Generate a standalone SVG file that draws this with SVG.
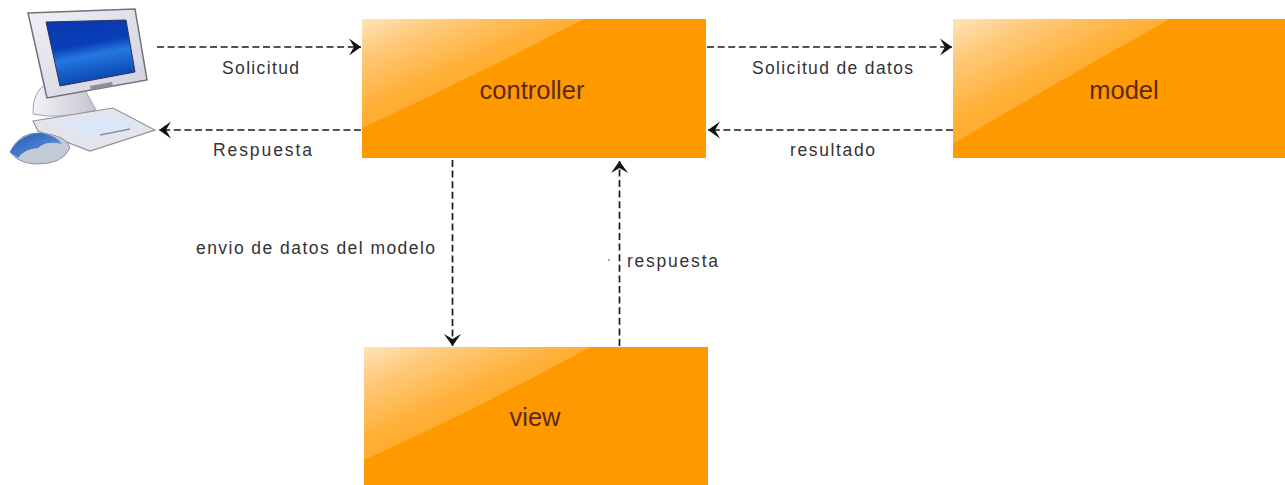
<svg xmlns="http://www.w3.org/2000/svg" width="1285" height="485" viewBox="0 0 1285 485">
<style>
.box{fill:#ff9900}
.edge{fill:none;stroke:#1a1a1a;stroke-width:1.7;stroke-dasharray:7 3.6}
.lbl{font-family:"Liberation Sans",Arial,sans-serif;font-size:17.500px;fill:#333}
.name{font-family:"Liberation Sans",Arial,sans-serif;font-size:25.500px;fill:#5c2a12;text-anchor:middle}
</style>
<defs>
<linearGradient id="gloss" x1="0" y1="0" x2="0.75" y2="0.85">
<stop offset="0" stop-color="#ffe4bb"/><stop offset="0.22" stop-color="#ffca7c"/><stop offset="0.55" stop-color="#ffb037"/><stop offset="1" stop-color="#ffa21a"/>
</linearGradient>
<linearGradient id="scr" x1="0" y1="0" x2="0.25" y2="1">
<stop offset="0" stop-color="#0836ae"/><stop offset="0.45" stop-color="#0a3fb8"/><stop offset="0.62" stop-color="#2478e0"/><stop offset="1" stop-color="#0a46b0"/>
</linearGradient>
<linearGradient id="mon" x1="0" y1="0" x2="1" y2="1">
<stop offset="0" stop-color="#f0f0f6"/><stop offset="1" stop-color="#cfd0dc"/>
</linearGradient>
<linearGradient id="stand" x1="0" y1="0" x2="1" y2="0">
<stop offset="0" stop-color="#f2f2f6"/><stop offset="1" stop-color="#c4c5cf"/>
</linearGradient>
<linearGradient id="mouse" x1="0" y1="0" x2="1" y2="1">
<stop offset="0" stop-color="#1c58b8"/><stop offset="1" stop-color="#6f9ede"/>
</linearGradient>
<marker id="ah" markerUnits="userSpaceOnUse" markerWidth="16" markerHeight="20" refX="14" refY="10" orient="auto">
<path d="M2 1.500 L14 10 L2 18.500 L7 10 Z" fill="#111"/>
</marker>
</defs>
<rect width="1285" height="485" fill="#fff"/>
<g id="computer">
<path d="M33 114 Q32 92 46 84 L85 90 L96 110 Q60 120 33 114Z" fill="url(#stand)" stroke="#a5a6b0" stroke-width="1"/>
<path d="M28 13 L135 9 L147 80 L47 98Z" fill="url(#mon)" stroke="#6f7078" stroke-width="1.500"/>
<path d="M46 22 L126 20 L135 72 L60 86Z" fill="url(#scr)" stroke="#33335a" stroke-width="1"/>
<path d="M90 86 L112 82 L113 86 L91 90Z" fill="#8d8e98"/>
<path d="M33 121 L113 108 L155 130 L90 151 L38 131Z" fill="#e4e4ec" stroke="#8f9099" stroke-width="1.200"/>
<path d="M56 123 L112 113 L140 127 L88 138Z" fill="#dbe7f8"/>
<path d="M100 135 L130 129" stroke="#8f9099" stroke-width="1.500" fill="none"/>
<path d="M10 152 Q20 131 42 133 Q68 136 70 148 Q62 165 35 164 Q18 163 10 152Z" fill="#c4c9d6" stroke="#8d93a5" stroke-width="1"/>
<path d="M10 152 Q20 134 40 133 Q56 135 62 144 Q46 140 38 148 Q24 149 18 158Z" fill="url(#mouse)"/>
</g>
<g id="controller"><rect class="box" x="362" y="19" width="344" height="139"/><path d="M362 19H584Q470 78 362 128Z" fill="url(#gloss)"/><text class="name" x="532" y="99">controller</text></g>
<g id="model"><rect class="box" x="953" y="19" width="332" height="139"/><path d="M953 19H1170Q1060 80 953 144Z" fill="url(#gloss)"/><text class="name" x="1124" y="99">model</text></g>
<g id="view"><rect class="box" x="364" y="347" width="344" height="138"/><path d="M364 347H590Q475 410 364 460Z" fill="url(#gloss)"/><text class="name" x="535" y="426">view</text></g>
<g id="connectors">
<path class="edge" d="M157 47H361" marker-end="url(#ah)"/>
<path class="edge" d="M361 130H159" marker-end="url(#ah)"/>
<path class="edge" d="M707 47H952" marker-end="url(#ah)"/>
<path class="edge" d="M953 130H708" marker-end="url(#ah)"/>
<path class="edge" d="M452.500 160V346" marker-end="url(#ah)"/>
<path class="edge" d="M619.500 346V161" marker-end="url(#ah)"/>
<rect x="608" y="259.500" width="2" height="1.200" fill="#777"/>
</g>
<g id="labels">
<text class="lbl" x="222" y="74" textLength="77">Solicitud</text>
<text class="lbl" x="213" y="156" textLength="99">Respuesta</text>
<text class="lbl" x="752" y="74" textLength="161">Solicitud de datos</text>
<text class="lbl" x="790" y="156" textLength="85">resultado</text>
<text class="lbl" x="196" y="254" textLength="239">envio de datos del modelo</text>
<text class="lbl" x="627" y="267" textLength="91">respuesta</text>
</g>
</svg>
